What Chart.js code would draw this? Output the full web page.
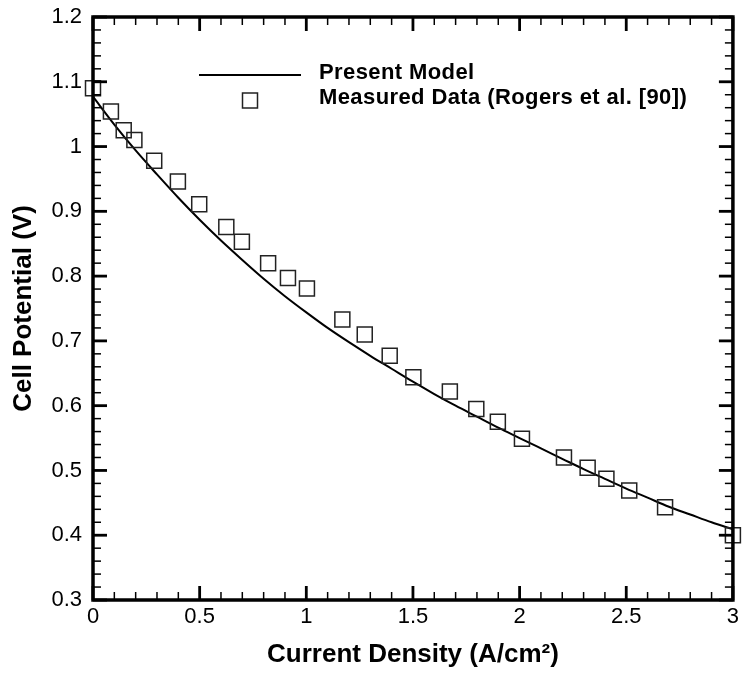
<!DOCTYPE html>
<html>
<head>
<meta charset="utf-8">
<script src="https://cdn.jsdelivr.net/npm/chart.js@4.4.1/dist/chart.umd.min.js"></script>
<style>
  html, body { margin: 0; padding: 0; background: #fff; }
  canvas { display: block; }
</style>
</head>
<body>
<canvas id="c" width="745" height="673"></canvas>
<script>
// ---- data ----
const seriesNames = ['Present Model', 'Measured Data (Rogers et al. [90])'];

const modelCurrent = [0, 0.1, 0.2, 0.3, 0.4, 0.5, 0.6, 0.7, 0.8, 0.9, 1.0,
  1.1, 1.2, 1.3, 1.4, 1.5, 1.6, 1.7, 1.8, 1.9, 2.0,
  2.1, 2.2, 2.3, 2.4, 2.5, 2.6, 2.7, 2.8, 2.9, 3.0];
const modelPotential = [1.077, 1.034, 0.994, 0.957, 0.921, 0.887, 0.855, 0.825, 0.796, 0.769, 0.744,
  0.720, 0.698, 0.677, 0.657, 0.637, 0.618, 0.600, 0.583, 0.566, 0.550,
  0.534, 0.518, 0.502, 0.487, 0.472, 0.458, 0.444, 0.432, 0.420, 0.409];

const measuredCurrent = [0, 0.084, 0.144, 0.194, 0.287, 0.398, 0.498, 0.625, 0.698, 0.821,
  0.914, 1.003, 1.169, 1.274, 1.391, 1.502, 1.673, 1.797, 1.898, 2.011,
  2.208, 2.319, 2.407, 2.514, 2.682, 3.0];
const measuredPotential = [1.090, 1.054, 1.025, 1.010, 0.978, 0.946, 0.911, 0.876, 0.853, 0.820,
  0.797, 0.781, 0.733, 0.710, 0.677, 0.644, 0.622, 0.595, 0.575, 0.549,
  0.520, 0.504, 0.487, 0.469, 0.443, 0.400];

const xTickLabels = ['0', '0.5', '1', '1.5', '2', '2.5', '3'];
const yTickLabels = ['0.3', '0.4', '0.5', '0.6', '0.7', '0.8', '0.9', '1', '1.1', '1.2'];
const xTitle = 'Current Density (A/cm\u00B2)';
const yTitle = 'Cell Potential (V)';

// ---- helpers ----
const FONT = "'Liberation Sans', Arial, Helvetica, sans-serif";
function labelFor(list, value) {
  for (const s of list) { if (Math.abs(parseFloat(s) - value) < 1e-6) return s; }
  return '';
}

const framePlugin = {
  id: 'frame',
  afterDatasetsDraw(chart) {
    const { ctx, chartArea: a, scales: { x, y } } = chart;
    ctx.save();
    ctx.strokeStyle = '#000';
    const seg = (x1, y1, x2, y2) => { ctx.beginPath(); ctx.moveTo(x1, y1); ctx.lineTo(x2, y2); ctx.stroke(); };
    // minor ticks
    ctx.lineWidth = 1.5;
    for (let i = 0; i <= 30; i++) {
      if (i % 5 === 0) continue;
      const px = x.getPixelForValue(i / 10);
      seg(px, a.bottom, px, a.bottom - 8);
      seg(px, a.top, px, a.top + 8);
    }
    for (let i = 15; i <= 60; i++) {
      if (i % 5 === 0) continue;
      const py = y.getPixelForValue(i / 50);
      seg(a.left, py, a.left + 8, py);
      seg(a.right, py, a.right - 8, py);
    }
    // major ticks
    ctx.lineWidth = 2.8;
    for (const t of x.ticks) {
      const px = x.getPixelForValue(t.value);
      seg(px, a.bottom, px, a.bottom - 14);
      seg(px, a.top, px, a.top + 14);
    }
    for (const t of y.ticks) {
      const py = y.getPixelForValue(t.value);
      seg(a.left, py, a.left + 14, py);
      seg(a.right, py, a.right - 14, py);
    }
    // frame
    ctx.lineWidth = 3.5;
    ctx.strokeRect(a.left, a.top, a.right - a.left, a.bottom - a.top);
    ctx.restore();
  }
};

const legendPlugin = {
  id: 'customLegend',
  afterDraw(chart) {
    const { ctx } = chart;
    const ds = chart.data.datasets;
    ctx.save();
    ctx.letterSpacing = '0.4px';
    ctx.font = "bold 22px " + FONT;
    ctx.fillStyle = '#000';
    ctx.textAlign = 'left';
    ctx.textBaseline = 'alphabetic';
    // line sample
    ctx.strokeStyle = ds[0].borderColor;
    ctx.lineWidth = ds[0].borderWidth;
    ctx.beginPath(); ctx.moveTo(199, 75); ctx.lineTo(301, 75); ctx.stroke();
    ctx.fillText(ds[0].label, 319, 79);
    // square sample
    ctx.strokeStyle = ds[1].borderColor;
    ctx.lineWidth = ds[1].borderWidth;
    ctx.strokeRect(242.5, 93, 15, 15);
    ctx.fillText(ds[1].label, 319, 104);
    ctx.restore();
  }
};

new Chart(document.getElementById('c'), {
  type: 'scatter',
  data: {
    datasets: [
      {
        type: 'line',
        label: seriesNames[0],
        data: modelCurrent.map((v, i) => ({ x: v, y: modelPotential[i] })),
        borderColor: '#000',
        borderWidth: 2,
        pointRadius: 0,
        cubicInterpolationMode: 'monotone',
        fill: false,
        clip: false,
        order: 2
      },
      {
        type: 'scatter',
        label: seriesNames[1],
        data: measuredCurrent.map((v, i) => ({ x: v, y: measuredPotential[i] })),
        pointStyle: 'rect',
        pointRadius: 10.6,
        pointHoverRadius: 10.6,
        borderColor: '#222',
        borderWidth: 1.5,
        backgroundColor: 'rgba(0,0,0,0)',
        clip: false,
        order: 1
      }
    ]
  },
  options: {
    responsive: false,
    animation: false,
    events: [],
    layout: { padding: { left: 0, right: 7, top: 17, bottom: 0 } },
    plugins: { legend: { display: false }, tooltip: { enabled: false } },
    scales: {
      x: {
        type: 'linear',
        min: 0, max: 3,
        grid: { display: false, drawTicks: false },
        border: { display: false },
        ticks: {
          stepSize: 0.5,
          padding: 4,
          color: '#000',
          maxRotation: 0,
          autoSkip: false,
          font: { family: FONT, size: 22 },
          callback: (v) => labelFor(xTickLabels, v)
        },
        title: {
          display: true,
          text: xTitle,
          color: '#000',
          font: { family: FONT, size: 26, weight: 'bold' },
          padding: { top: 0, bottom: 3 }
        },
        afterFit(s) { s.height = 73; s.paddingLeft = 0; s.paddingRight = 0; }
      },
      y: {
        type: 'linear',
        min: 0.3, max: 1.2,
        grid: { display: false, drawTicks: false },
        border: { display: false },
        ticks: {
          stepSize: 0.1,
          padding: 11,
          color: '#000',
          autoSkip: false,
          font: { family: FONT, size: 22 },
          callback: (v) => labelFor(yTickLabels, v)
        },
        title: {
          display: true,
          text: yTitle,
          color: '#000',
          font: { family: FONT, size: 26, weight: 'bold' },
          padding: { top: 8, bottom: 0 }
        },
        afterFit(s) { s.width = 93; s.paddingTop = 0; s.paddingBottom = 0; }
      }
    }
  },
  plugins: [framePlugin, legendPlugin]
});
</script>
</body>
</html>
